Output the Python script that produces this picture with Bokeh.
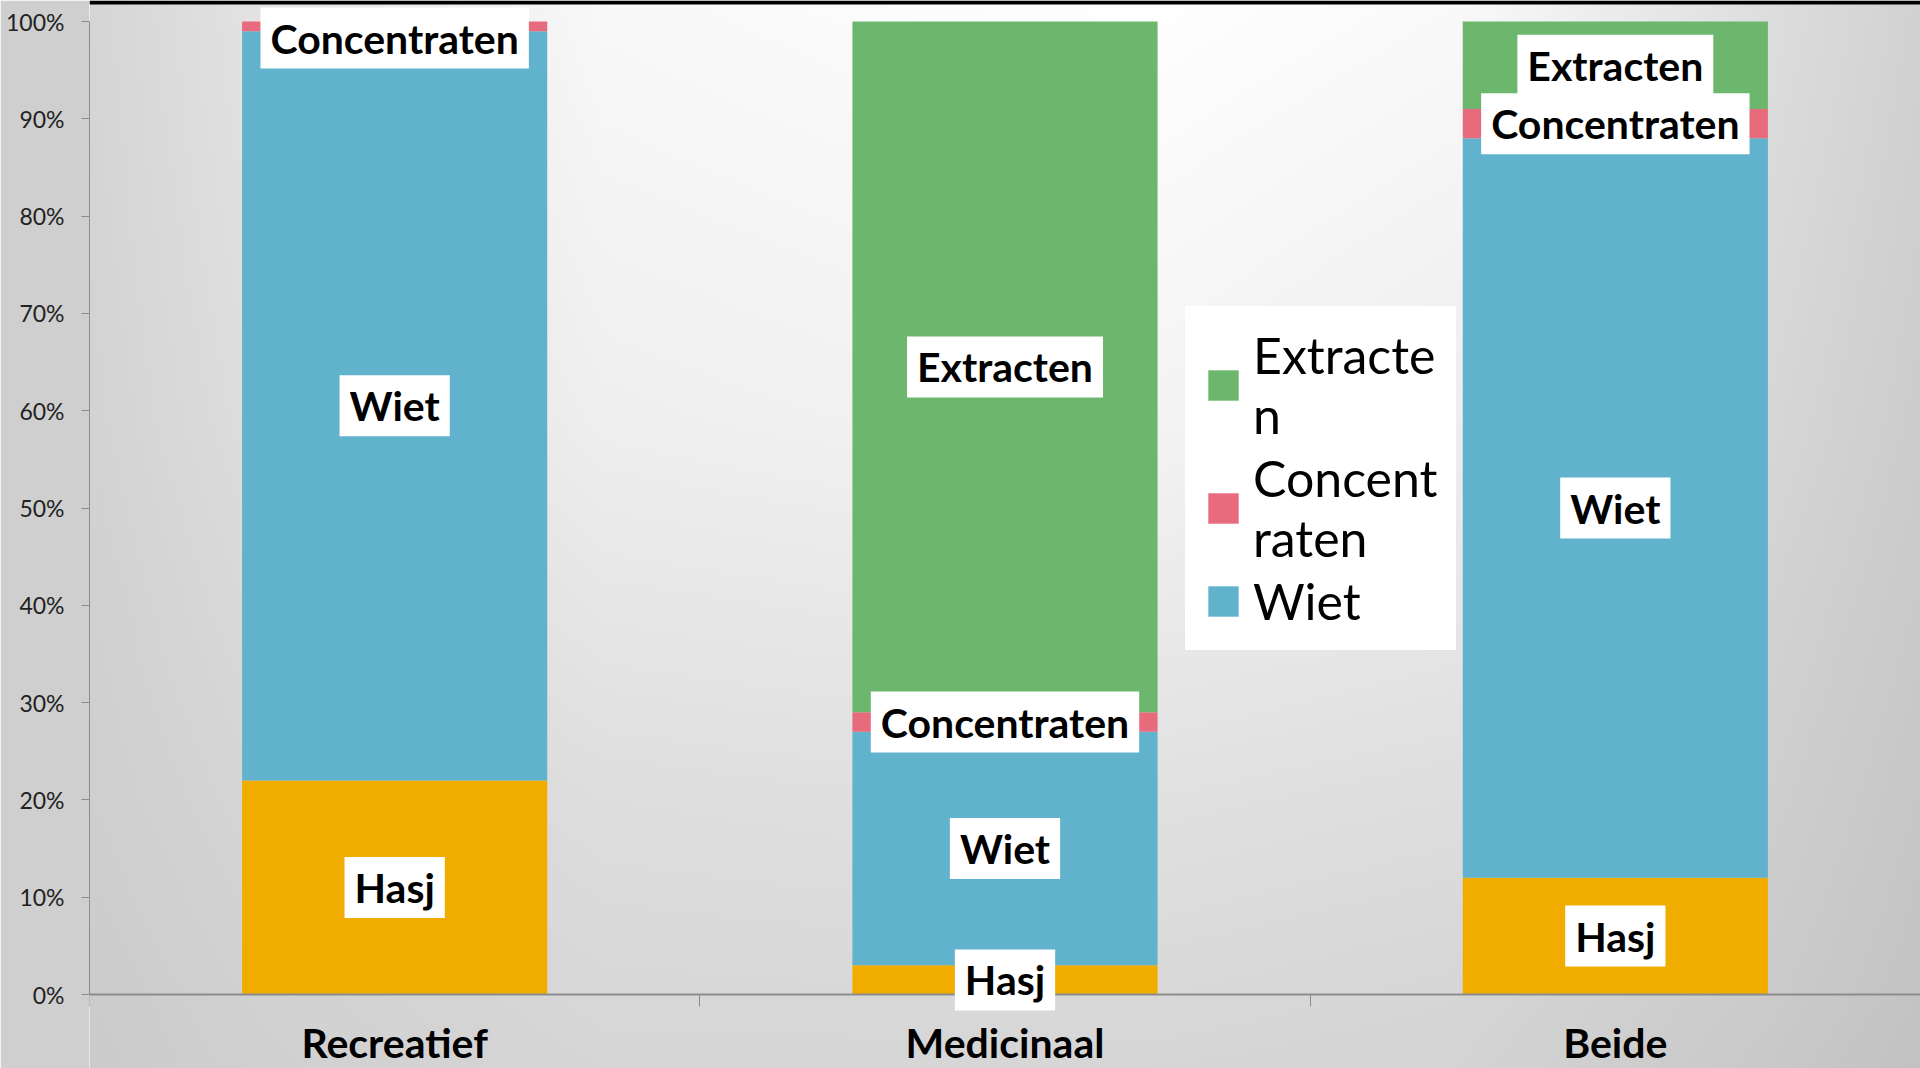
import numpy as np
from bokeh.plotting import figure
from bokeh.models import (ColumnDataSource, Range1d, FixedTicker, NumeralTickFormatter,
                          Legend, LegendItem, Label, BoxAnnotation)
from bokeh.embed import file_html
from bokeh.resources import INLINE

# ---------------- data ----------------
categories = ["Recreatief", "Medicinaal", "Beide"]
series = ["Hasj", "Wiet", "Concentraten", "Extracten"]
hasj = [0.22, 0.03, 0.12]
wiet = [0.77, 0.24, 0.76]
concentraten = [0.01, 0.02, 0.03]
extracten = [0.00, 0.71, 0.09]
colors = ["#F0AD00", "#61B3CD", "#E86B7D", "#6CB76D"]
y_ticks = [0.0, 0.1, 0.2, 0.3, 0.4, 0.5, 0.6, 0.7, 0.8, 0.9, 1.0]
legend_labels = {"Extracten": "Extracte\nn", "Concentraten": "Concent\nraten", "Wiet": "Wiet"}
legend_order = ["Extracten", "Concentraten", "Wiet"]

values = {"Hasj": hasj, "Wiet": wiet, "Concentraten": concentraten, "Extracten": extracten}

# ---------------- layout ----------------
W, H = 1920, 1068
LEFT = 89
px_per_unit = 973.0
top_px, bottom_px = 21.0, 74.0
y_end = 1.0 + top_px / px_per_unit
y_start = -bottom_px / px_per_unit

x_centers = [i + 0.5 for i in range(len(categories))]
bounds = list(range(len(categories) + 1))

p = figure(width=W, height=H, output_backend="svg", toolbar_location=None,
           x_range=Range1d(0, len(categories)), y_range=Range1d(y_start, y_end),
           min_border_left=LEFT, min_border_right=0, min_border_top=0,
           min_border_bottom=0, outline_line_color=None,
           border_fill_color="#cfcfcf")

# background shading of the slide (style only, grey levels)
shade_x = [89, 240, 600, 1150, 1460, 1770, 1920]
shade_y = [0, 420, 600, 800, 1000, 1068]
shade = [[214, 226, 249, 255, 250, 222, 210],
         [211, 221, 239, 244, 238, 215, 205],
         [209, 217, 231, 235, 231, 211, 202],
         [207, 213, 222, 225, 222, 207, 199],
         [204, 209, 216, 217, 214, 203, 196],
         [203, 208, 214, 214, 212, 201, 194]]
nx, ny = 480, 270
gx = np.linspace(LEFT, W, nx)
gy = np.linspace(H, 0, ny)           # row 0 = bottom of the frame
rows = np.array([np.interp(gx, shade_x, r) for r in shade])
v = np.empty((ny, nx))
for j in range(nx):
    v[:, j] = np.interp(gy, shade_y, rows[:, j])
v = v.astype(np.uint8)
img = np.empty((ny, nx), dtype=np.uint32)
view = img.view(dtype=np.uint8).reshape((ny, nx, 4))
view[:, :, 0] = v
view[:, :, 1] = v
view[:, :, 2] = v
view[:, :, 3] = 255
p.image_rgba(image=[img], x=0, y=y_start, dw=len(categories), dh=y_end - y_start)

# slide border at the top (decoration)
p.add_layout(BoxAnnotation(bottom=y_end - 4 / px_per_unit, top=y_end, fill_color="black",
                           fill_alpha=1.0, line_color=None))

# bars
data = dict(x=x_centers)
data.update(values)
source = ColumnDataSource(data)
rs = p.vbar_stack(series, x="x", width=0.5, fill_color=colors, line_color=None, source=source)
rmap = dict(zip(series, rs))

# data labels
FS = 41
pad_h, pad_v = 10, 6
half_box = (FS * 1.2 + 2 * pad_v) / 2.0
y_max_label = y_end - (7 + half_box) / px_per_unit
for i, cat in enumerate(categories):
    base = 0.0
    for s in series:
        val = values[s][i]
        if val > 0:
            mid = min(base + val / 2.0, y_max_label)
            p.add_layout(Label(x=x_centers[i], y=mid, text=s, text_align="center",
                               text_baseline="middle", text_font="Lato",
                               text_font_style="bold", text_font_size=f"{FS}px",
                               text_color="black", background_fill_color="white",
                               padding=(pad_h, pad_v)))
        base += val

# axes
p.yaxis.ticker = FixedTicker(ticks=y_ticks)
p.yaxis.formatter = NumeralTickFormatter(format="0%")
p.yaxis.bounds = (0, 1)
p.yaxis.axis_line_color = "#8c8c8c"
p.yaxis.major_tick_line_color = "#8c8c8c"
p.yaxis.major_tick_out = 8
p.yaxis.major_tick_in = 0
p.yaxis.minor_tick_line_color = None
p.yaxis.major_label_standoff = 17
p.yaxis.major_label_text_font = "Lato"
p.yaxis.major_label_text_font_size = "23px"
p.yaxis.major_label_text_color = "#222222"

p.xaxis.fixed_location = 0
p.xaxis.ticker = FixedTicker(ticks=x_centers, minor_ticks=bounds)
p.xaxis.major_label_overrides = {x: c for x, c in zip(x_centers, categories)}
p.xaxis.axis_line_color = "#8c8c8c"
p.xaxis.axis_line_width = 2
p.xaxis.major_tick_line_color = None
p.xaxis.major_tick_out = 0
p.xaxis.major_tick_in = 0
p.xaxis.minor_tick_line_color = "#8c8c8c"
p.xaxis.minor_tick_out = 12
p.xaxis.minor_tick_in = 0
p.xaxis.major_label_standoff = 11
p.xaxis.major_label_text_font = "Lato"
p.xaxis.major_label_text_font_style = "bold"
p.xaxis.major_label_text_font_size = "41px"
p.xaxis.major_label_text_color = "black"

p.xgrid.grid_line_color = None
p.ygrid.ticker = FixedTicker(ticks=y_ticks)
p.ygrid.grid_line_color = "#8f8f8f"
p.ygrid.grid_line_width = 1.5

# legend
items = [LegendItem(label=legend_labels[s], renderers=[rmap[s]]) for s in legend_order]
legend = Legend(items=items, location=(1096, 418), background_fill_color="white",
                background_fill_alpha=1.0, border_line_color="white", border_line_width=1,
                label_text_font="Lato", label_text_font_size="50px",
                label_text_color="black", label_text_line_height=1.43,
                glyph_width=38, glyph_height=38,
                label_standoff=11, padding=18, spacing=3, margin=0)
p.add_layout(legend, "center")

open("out.html", "w").write(file_html(p, INLINE))
